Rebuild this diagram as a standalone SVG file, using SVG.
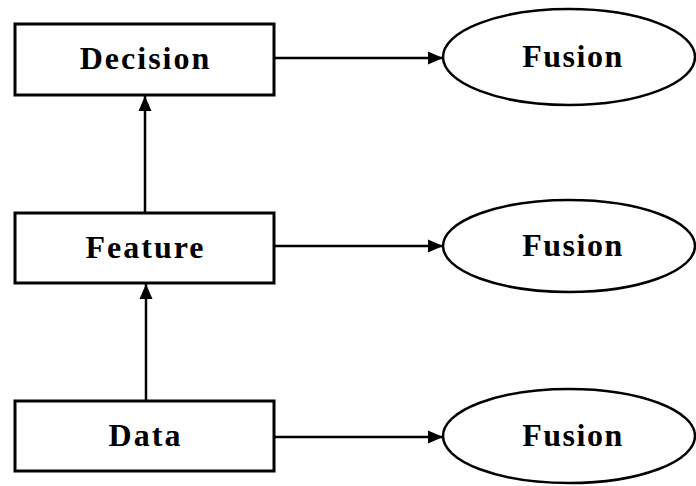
<svg xmlns="http://www.w3.org/2000/svg" width="696" height="486" viewBox="0 0 696 486">
<style>
.box{fill:#fff;stroke:#000;stroke-width:3}
.ell{fill:#fff;stroke:#000;stroke-width:2.5}
.lbl{font-family:"Liberation Serif","Times New Roman",serif;font-weight:bold;font-size:32px;fill:#000;text-anchor:middle;letter-spacing:2px}
.fus{letter-spacing:1.5px}
.conn line{stroke:#000;stroke-width:2.5}
</style>
<defs>
<marker id="arr" markerUnits="userSpaceOnUse" markerWidth="16" markerHeight="14" refX="15" refY="7" orient="auto">
<path d="M0,0.5 L15,7 L0,13.5 Z" fill="#000"/>
</marker>
</defs>
<rect width="696" height="486" fill="#fff"/>
<g id="decision"><rect class="box" x="15" y="24" width="259" height="71"/><text class="lbl" x="145.5" y="69">Decision</text></g>
<g id="feature"><rect class="box" x="15" y="213" width="259" height="70"/><text class="lbl" x="145.5" y="258">Feature</text></g>
<g id="data"><rect class="box" x="15" y="401" width="259" height="70"/><text class="lbl" x="145.5" y="446">Data</text></g>
<g id="fusion1"><ellipse class="ell" cx="569" cy="57" rx="126" ry="48"/><text class="lbl fus" x="573" y="67">Fusion</text></g>
<g id="fusion2"><ellipse class="ell" cx="569" cy="246" rx="126" ry="46"/><text class="lbl fus" x="573" y="256">Fusion</text></g>
<g id="fusion3"><ellipse class="ell" cx="569" cy="436" rx="126" ry="47"/><text class="lbl fus" x="573" y="446">Fusion</text></g>
<g class="conn" id="connectors">
<line x1="274" y1="58" x2="443" y2="58" marker-end="url(#arr)"/>
<line x1="274" y1="246" x2="443" y2="246" marker-end="url(#arr)"/>
<line x1="274" y1="437" x2="443" y2="437" marker-end="url(#arr)"/>
<line x1="145" y1="213" x2="145" y2="96" marker-end="url(#arr)"/>
<line x1="146" y1="401" x2="146" y2="284" marker-end="url(#arr)"/>
</g>
</svg>
